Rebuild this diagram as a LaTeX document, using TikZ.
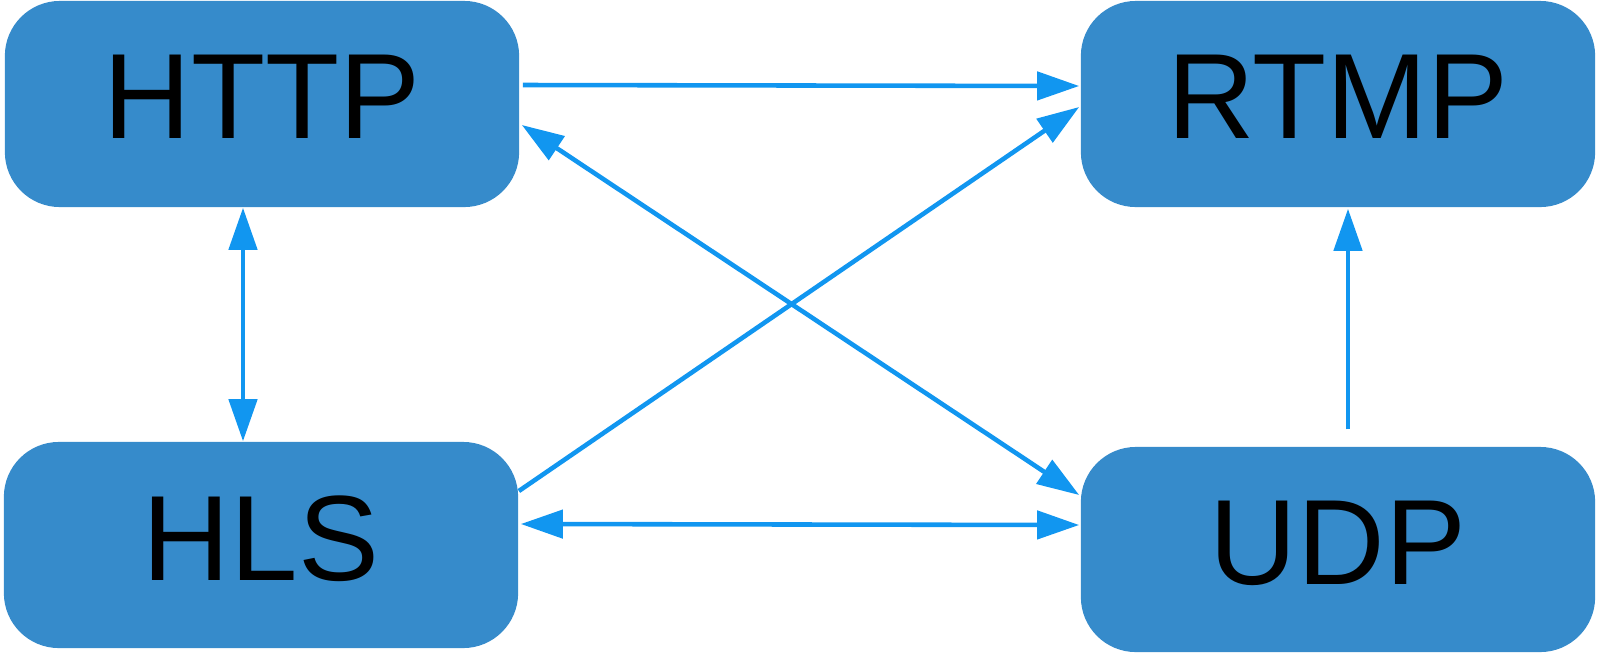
\documentclass[tikz,border=0pt]{standalone}
\usepackage{fontspec}
\setmainfont{Liberation Sans}
\usepackage{xcolor}
\usetikzlibrary{arrows.meta,calc}
\definecolor{myfill}{rgb}{0.212,0.545,0.796}
\definecolor{myblue}{rgb}{0.067,0.588,0.941}
\usepackage{tikz}
\begin{document}
\begin{tikzpicture}[x=0.01cm,y=-0.01cm,
proto/.style={fill=myfill, rounded corners=0.55cm, minimum width=5.14cm, minimum height=2.06cm, inner sep=0pt, text depth=0.14cm, font=\fontsize{34.5}{40}\selectfont},
link/.style={myblue, line width=1.3pt, -{Triangle[length=0.42cm,width=0.28cm]}},
both/.style={link, {Triangle[length=0.42cm,width=0.28cm]}-{Triangle[length=0.42cm,width=0.28cm]}}]
\useasboundingbox (0,0) rectangle (1600,654);
\node[proto] (HTTP) at (262,104) {HTTP};
\node[proto] (RTMP) at (1338,104) {RTMP};
\node[proto] (HLS) at (261,545) {HLS};
\node[proto, minimum height=2.05cm] (UDP) at (1338,549.5) {UDP};
\coordinate (UDPtop) at ($(UDP.north)+(10,-17)$);
\draw[link] ($(HTTP.east)+(3,-19)$) -- ($(RTMP.west)+(-1,-18)$);
\draw[link] ($(HLS.east)+(0,-54)$) -- ($(RTMP.west)+(-1,3)$);
\draw[both] ($(HTTP.east)+(2,21)$) -- ($(UDP.west)+(-1,-54.5)$);
\draw[both] ($(HTTP.south)+(-19,0)$) -- ($(HLS.north)+(-18,0)$);
\draw[both] ($(HLS.east)+(2,-21)$) -- ($(UDP.west)+(-1,-24.5)$);
\draw[link] (UDPtop) -- ($(RTMP.south)+(10,1)$);
\end{tikzpicture}
\end{document}
